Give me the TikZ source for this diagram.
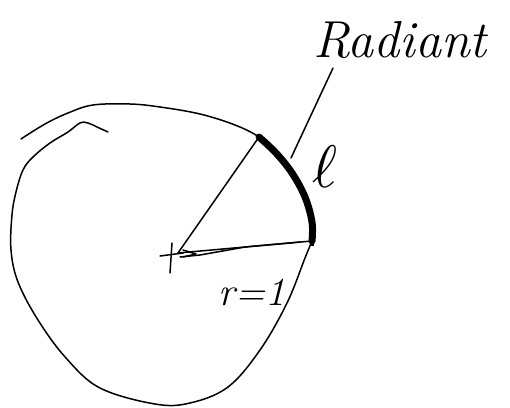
\documentclass[tikz,border=0pt]{standalone}
\usepackage{amsmath}
\usepackage{graphicx}
\usepackage{tikz}
\usetikzlibrary{positioning, calc}

\begin{document}
\begin{tikzpicture}[
    x=1pt, y=-1pt,
    stroke/.style={
        line width=1.5pt,
        line cap=round,
        line join=round
    },
    arcmark/.style={
        line width=7pt,
        line cap=round
    },
    hand/.style={
        inner sep=0pt,
        font=\itshape\fontsize{#1}{#1}\selectfont
    }
]
\useasboundingbox (0,0) rectangle (510,407);

% === Points ===
\coordinate (centre) at (178,253);
\coordinate (top) at (259,137);
\coordinate (side) at (312,241);
\coordinate (tipA) at (333,68);
\coordinate (tipB) at (291,158);

% === Circle ===
\draw[stroke] plot[smooth, tension=0.6] coordinates {(108,132) (97,127) (88,123) (80,123) (68,132) (50,143) (33,157) (23,170) (16,192) (12,215) (11,250) (18,282) (38,320) (66,358) (100,388) (155,404) (190,403) (228,387) (260,350) (287,303) (305,258) (side)};
\draw[stroke] plot[smooth, tension=0.6] coordinates {(side) (314,222) (306,196) (293,172) (277,153) (top) (235,125) (200,114) (160,107) (130,104) (93,105) (68,113) (45,124) (21,139)};
\draw[arcmark] plot[smooth, tension=0.6] coordinates {(side) (312,222) (305,197) (292,173) (276,153) (top)};
\draw[line width=4pt] ($(side)+(0,-8)$) -- ($(side)+(0,5)$);

% === Radius lines ===
\draw[stroke] (centre) -- (top);
\draw[stroke] (centre) -- (side);
\draw[stroke] (180,257) -- (200,255) -- (245,247) -- (300,242);
\draw[stroke] (183,250) -- (196,254) -- (183,257);
\draw[stroke] (172,243) -- (170,273);
\draw[stroke] (160,256) -- (183,253);

% === Labels ===
\node[hand=52] (radiant) at (400,40) {Radiant};
\node[inner sep=0pt] (ell) at (325,167) {\scalebox{6}{$\ell$}};
\node[hand=40] (rlabel) at (252,292) {r=1};
\draw[stroke] (tipA) -- (tipB);
\end{tikzpicture}
\end{document}
